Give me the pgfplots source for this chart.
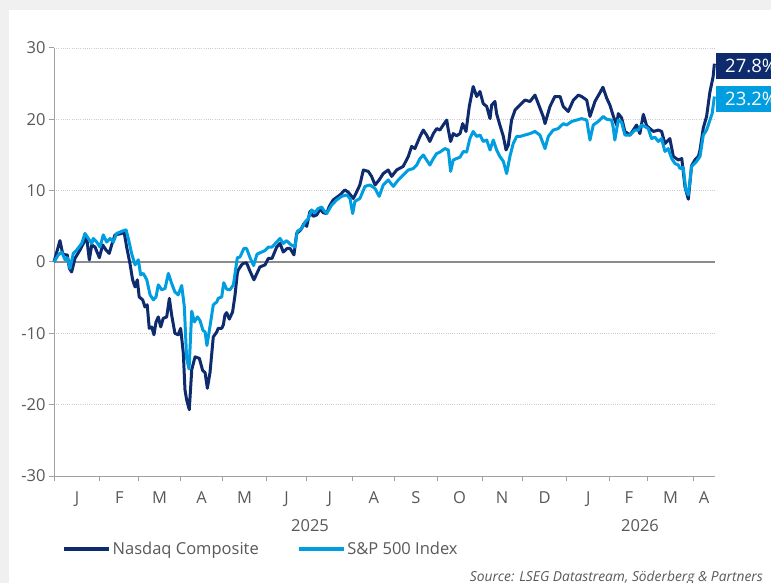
\documentclass[border=0pt]{standalone}
\usepackage{fontspec}
\setmainfont{Open Sans}
\usepackage{pgfplots}
\pgfplotsset{compat=1.18}
\definecolor{navy}{RGB}{14,43,110}
\definecolor{sky}{RGB}{0,158,224}
\definecolor{textgray}{RGB}{89,89,89}
\definecolor{axisgray}{RGB}{160,160,160}
\definecolor{zerogray}{RGB}{140,140,140}
\definecolor{gridgray}{RGB}{205,205,205}
\definecolor{framegray}{RGB}{241,240,241}
\begin{document}
\begin{tikzpicture}
\useasboundingbox (0,0) rectangle (771bp,583bp);
\fill[framegray] (0,0) rectangle (771bp,583bp);
\fill[white] (9bp,0) rectangle (771bp,573bp);
\begin{axis}[
  at={(54bp,107bp)}, anchor=south west,
  scale only axis, width=661bp, height=428bp,
  xmin=0, xmax=322, ymin=-30, ymax=30,
  axis x line=bottom, axis y line=left,
  axis line style={-, draw=axisgray, line width=1bp},
  clip=false,
  tick align=outside, major tick length=5bp,
  tick style={draw=axisgray, line width=1bp},
  ytick={-30,-20,-10,0,10,20,30},
  ymajorgrids=true,
  major grid style={draw=gridgray, line width=0.8bp, dash pattern=on 1bp off 1.2bp},
  xtick={0,22.4,41.4,61.4,82.3,103.3,123.2,145.6,166.1,186.6,208.5,228,249.9,270.8,289.3,311.3},
  xticklabels={},
  extra x ticks={11.2,31.9,51.4,71.85,92.8,113.25,134.4,155.85,176.35,197.55,218.25,239,260.35,280.05,300.3,316.65},
  extra x tick labels={J,F,M,A,M,J,J,A,S,O,N,D,J,F,M,A},
  extra x tick style={major tick length=0pt, xticklabel style={anchor=base, yshift=-27bp}},
  extra y ticks={0}, extra y tick labels={},
  extra y tick style={ymajorgrids=true, major tick length=0pt, major grid style={draw=zerogray, solid, line width=1.2bp}},
  yticklabel style={anchor=east},
  tick label style={font=\fontsize{16.5bp}{19bp}\selectfont, text=textgray},
  /pgf/number format/assume math mode=true,
  legend style={at={(0.0121,-0.1706)}, anchor=west, draw=none, fill=none, inner sep=0pt,
    font=\fontsize{16.5bp}{19bp}\selectfont, text=textgray,
    /tikz/every even column/.append style={column sep=36bp}},
  legend columns=2,
  legend cell align=left,
  legend image code/.code={\draw[#1, line width=3.5bp] (0bp,0bp) -- (45bp,0bp);},
]
\addplot[navy, line width=3bp, line join=round] coordinates {
(0,0) (2.9,3.0) (4.2,1.2) (5.4,1.0) (6.5,1.0) (7.5,-0.9) (8.6,-1.4) (10.2,0.5) (12.7,1.7) (14.3,2.6)
(15.9,3.5) (17.2,0.3) (18.4,2.4) (20.0,2.1) (22.1,0.6) (23.7,2.4) (25.3,1.7) (26.9,1.2) (28.1,2.4) (29.7,3.8)
(33.0,4.0) (34.1,4.3) (35.4,2.1) (37.0,-0.2) (38.3,-2.5) (39.5,-3.5) (40.6,-2.5) (41.5,-4.9) (43.2,-5.3) (44.3,-6.3)
(45.4,-6.0) (46.4,-9.3) (47.6,-9.1) (48.7,-10.2) (49.7,-8.4) (50.8,-7.7) (52.0,-9.1) (53.2,-7.9) (54.9,-7.7) (56.2,-5.1)
(57.3,-7.4) (58.9,-10.0) (60.5,-10.2) (61.7,-9.3) (63.0,-12.8) (63.8,-17.9) (64.6,-19.3) (65.9,-20.7) (67.1,-15.1) (68.7,-13.3)
(70.8,-13.5) (72.4,-15.2) (73.6,-15.5) (74.7,-17.7) (76.0,-15.5) (77.6,-10.5) (79.3,-9.8) (80.0,-9.3) (81.7,-9.3) (82.5,-8.8)
(83.3,-7.4) (84.1,-7.1) (85.4,-8.0) (87.0,-7.0) (88.2,-4.6) (89.3,-1.6) (89.8,-1.1) (91.4,-0.4) (92.2,-0.2) (93.8,-0.1)
(95.5,-1.3) (97.4,-2.5) (99.0,-1.5) (100.3,-0.7) (102.8,-0.4) (104.4,0.5) (106.2,0.5) (108.5,2.1) (110.1,2.6) (111.7,1.4)
(113.6,1.9) (115.0,1.9) (116.9,1.0) (118.2,4.0) (120.2,4.5) (121.8,5.4) (123.1,5.0) (124.7,7.1) (126.3,6.4) (128.0,6.6)
(129.6,7.4) (131.2,6.9) (132.8,6.8) (134.1,7.8) (136.0,8.7) (139.3,9.4) (141.7,10.1) (143.3,9.8) (145.8,8.9) (147.4,9.8)
(149.0,10.8) (150.7,12.9) (153.1,12.7) (154.7,12.0) (156.4,10.8) (158.4,11.5) (160.4,12.4) (162.8,12.9) (164.5,12.0) (166.9,12.9)
(170.1,13.4) (172.6,14.8) (174.2,16.2) (175.8,15.9) (178.3,17.6) (179.9,18.5) (181.5,17.8) (183.1,16.9) (184.8,18.0) (186.4,18.7)
(188.0,18.5) (189.6,19.2) (191.3,19.9) (192.1,18.5) (193.2,16.9) (194.5,18.0) (196.1,17.7) (197.8,18.0) (199.1,19.4) (200.7,18.3)
(202.3,21.8) (204.2,24.6) (205.9,23.2) (207.5,23.9) (209.1,22.2) (210.8,21.8) (212.4,20.1) (213.2,22.0) (214.8,22.5) (215.6,20.8)
(217.2,19.2) (218.9,17.6) (220.2,15.7) (221.3,16.4) (222.9,19.9) (224.6,21.3) (227.0,22.0) (229.4,22.7) (231.9,22.5) (234.3,23.4)
(235.9,22.2) (238.3,20.4) (239.2,19.4) (241.6,21.8) (244.0,23.2) (246.5,23.2) (248.1,21.8) (250.5,21.1) (253.0,22.7) (255.4,23.4)
(257.0,23.2) (259.5,22.7) (261.1,20.4) (263.5,22.5) (265.9,23.7) (267.4,24.5) (269.2,23.0) (270.8,22.0) (272.4,20.5) (274.1,19.2)
(274.9,20.8) (276.5,20.2) (278.1,18.3) (280.6,17.8) (283.8,19.2) (285.4,18.0) (287.1,20.7) (288.7,19.1) (290.3,18.7) (292.0,18.3)
(294.4,18.5) (296.0,18.3) (297.6,16.6) (300.0,17.3) (301.7,14.8) (304.1,14.3) (305.8,14.5) (307.4,10.5) (309.0,8.8) (310.6,13.5)
(312.2,14.3) (313.9,14.8) (314.7,15.7) (316.3,18.8) (317.9,20.4) (319.5,23.8) (321.1,26.0) (321.7,27.8)
};
\addlegendentry{Nasdaq Composite}
\addplot[sky, line width=3bp, line join=round] coordinates {
(0,0) (2.1,1.0) (3.8,1.4) (5.4,0.3) (6.5,0.6) (7.8,-0.9) (9.4,1.2) (11.1,1.7) (13.5,2.6) (15.1,4.0)
(16.7,3.3) (18.4,2.6) (19.1,3.3) (20.8,2.8) (22.4,2.1) (24.0,3.8) (25.7,2.8) (27.3,3.3) (28.9,2.8) (30.5,4.0)
(33.0,4.3) (35.1,4.5) (36.2,3.3) (37.8,1.2) (39.5,-0.4) (41.1,0.3) (42.2,-1.8) (43.5,-1.6) (45.2,-2.5) (46.8,-4.6)
(48.4,-5.3) (49.7,-4.9) (50.8,-3.2) (52.5,-3.9) (54.1,-3.7) (55.7,-1.6) (57.3,-3.0) (58.9,-4.2) (60.5,-4.6) (62.2,-3.3)
(63.5,-6.3) (64.6,-13.5) (65.8,-15.0) (67.1,-6.9) (68.4,-8.4) (69.9,-7.7) (71.1,-8.2) (72.6,-9.6) (73.6,-9.8) (74.5,-11.7)
(76.0,-9.0) (77.6,-6.0) (79.3,-5.6) (80.0,-5.1) (81.7,-4.9) (82.7,-2.9) (84.1,-3.8) (85.7,-3.9) (87.4,-3.2) (89.3,0.6)
(90.6,0.7) (92.5,1.9) (93.8,1.9) (95.5,0.6) (97.2,-0.5) (98.9,1.1) (101.2,1.4) (102.8,1.6) (104.4,2.1) (106.2,2.1)
(108.5,2.8) (110.1,3.3) (111.7,2.6) (113.3,3.0) (115.0,2.5) (117.4,2.1) (118.5,4.3) (120.7,4.7) (122.3,5.6) (123.9,6.1)
(125.5,7.3) (127.1,6.9) (128.7,7.5) (130.4,7.7) (131.5,7.2) (132.8,6.8) (135.3,8.0) (137.7,8.7) (140.1,9.2) (142.6,9.4)
(144.2,8.9) (145.5,6.8) (146.6,8.5) (149.0,8.9) (151.5,10.6) (153.9,10.8) (156.4,10.3) (158.4,9.2) (160.4,10.8) (162.8,11.5)
(165.3,10.6) (167.7,11.5) (170.1,12.2) (172.6,12.9) (175.0,13.1) (176.7,13.6) (178.3,14.5) (179.9,15.0) (181.5,14.3) (183.1,13.6)
(184.8,14.5) (186.4,15.2) (188.0,15.4) (190.4,15.9) (192.1,15.7) (193.2,12.7) (194.5,14.3) (196.1,14.5) (197.8,14.7) (199.4,15.5)
(201.0,15.4) (202.6,17.3) (204.2,18.3) (205.9,17.6) (207.5,17.8) (209.1,16.9) (210.8,17.1) (212.4,15.7) (214.0,17.1) (215.6,15.7)
(217.2,14.8) (218.9,14.1) (220.5,12.4) (222.1,14.8) (223.7,16.6) (225.4,17.6) (227.0,17.6) (229.4,17.8) (231.9,18.0) (234.3,18.3)
(236.7,17.8) (239.2,15.9) (240.8,17.6) (243.2,18.5) (245.6,18.7) (248.1,19.4) (249.7,19.2) (252.2,19.7) (254.6,19.9) (257.0,20.1)
(259.5,19.9) (261.1,17.1) (262.7,19.2) (265.1,19.7) (267.6,20.4) (269.3,20.0) (271.6,19.9) (272.4,18.9) (273.2,17.1) (274.9,19.9)
(276.5,19.6) (278.1,17.8) (280.6,17.8) (283.0,18.5) (284.6,18.5) (286.2,19.2) (287.8,19.0) (289.5,18.7) (291.1,17.3) (292.7,17.5)
(294.4,16.9) (296.0,17.3) (297.6,15.5) (299.2,15.9) (300.9,14.5) (302.5,13.8) (304.1,13.6) (304.9,13.1) (306.5,13.3) (307.8,10.1)
(309.0,9.4) (310.6,13.4) (313.0,14.1) (314.7,14.8) (316.3,17.8) (317.9,18.5) (320.6,20.8) (321.7,23.2)
};
\addlegendentry{S\&P 500 Index}
\node[fill=navy, text=white, anchor=west, minimum height=26.5bp, inner xsep=9bp, text width=70bp,
  font=\fontsize{18.5bp}{20bp}\selectfont, xshift=1bp] at (axis cs:322,27.45) {27.8\%};
\node[fill=sky, text=white, anchor=west, minimum height=26.5bp, inner xsep=9bp, text width=70bp,
  font=\fontsize{18.5bp}{20bp}\selectfont, xshift=1bp] at (axis cs:322,22.85) {23.2\%};
\end{axis}
\node[text=textgray, font=\fontsize{16.5bp}{19bp}\selectfont] at (310bp,57bp) {2025};
\node[text=textgray, font=\fontsize{16.5bp}{19bp}\selectfont] at (640bp,57bp) {2026};
\node[anchor=base east, inner sep=0pt, text=textgray, font=\fontsize{13.8bp}{15bp}\selectfont\itshape] at (763bp,2bp) {Source: LSEG Datastream, Söderberg \& Partners};
\end{tikzpicture}
\end{document}
